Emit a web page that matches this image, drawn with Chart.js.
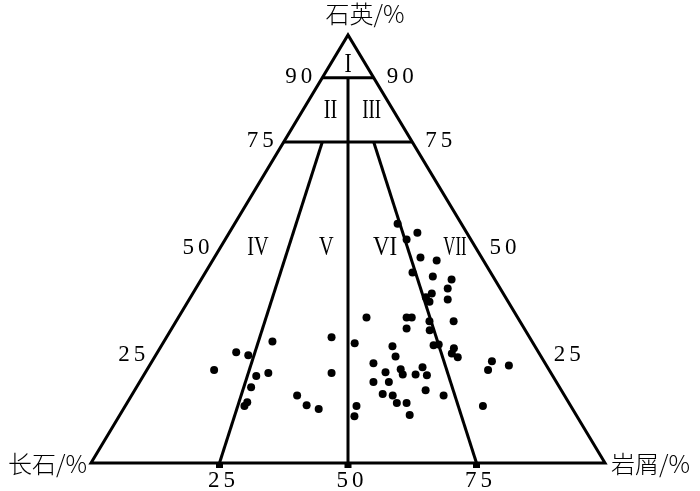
<!DOCTYPE html>
<html>
<head>
<meta charset="utf-8">
<script src="https://cdn.jsdelivr.net/npm/chart.js"></script>
<style>
  body { margin: 0; background: #fff; }
  canvas { display: block; }
</style>
</head>
<body>
<canvas id="tri" width="700" height="491"></canvas>
<script>
// sample compositions, % (feldspar = 100 - quartz - lithics)
const quartz = [
  21.7, 25.9, 25.2, 28.4, 20.3, 21.0, 17.7, 14.2, 13.3, 29.4, 21.0, 15.8, 13.5, 12.6, 28.0, 13.3,
  10.9, 34.0, 34.0, 34.0, 31.4, 38.2, 33.1, 33.1, 31.0, 27.5, 27.7, 27.3, 24.9, 26.8, 25.6, 24.7,
  23.3, 21.2, 21.9, 20.7, 20.7, 22.4, 20.5, 18.9, 18.9, 16.1, 15.8, 17.0, 15.8, 14.0, 14.0, 11.2,
  55.9, 53.8, 52.2, 48.0, 47.3, 44.5, 43.6, 42.9, 40.8, 39.6, 38.7, 37.7, 23.8, 22.8, 21.7, 13.3
];
const lithics = [
  13.1, 15.3, 18.0, 21.1, 22.0, 24.0, 22.3, 23.3, 23.2, 32.1, 36.3, 32.2, 35.2, 38.0, 37.3, 45.0,
  45.8, 36.6, 44.4, 45.4, 45.7, 50.3, 49.3, 54.0, 50.4, 52.9, 53.8, 45.0, 46.8, 57.2, 57.4, 59.0,
  43.3, 46.7, 49.3, 50.3, 52.8, 53.3, 55.1, 45.5, 48.5, 48.7, 50.8, 56.6, 60.7, 52.5, 54.4, 56.4,
  31.7, 36.6, 35.3, 40.1, 43.6, 40.3, 44.7, 48.7, 49.0, 46.5, 45.8, 47.0, 66.1, 69.9, 66.4, 69.6
];

const sideTicks = [90, 75, 50, 25];
const baseTicks = [25, 50, 75];
const regionNames = ["I", "II", "III", "IV", "V", "VI", "VII"];
const apexLabel = "石英/%";
const leftLabel = "长石/%";
const rightLabel = "岩屑/%";

// field boundaries as [quartz, lithics] end points
const boundaries = [
  [[0, 50], [0, 100], [100, 0], [0, 0], [0, 50]],
  [[90, 0], [90, 10]],
  [[75, 0], [75, 25]],
  [[90, 5], [0, 50]],
  [[75, 7.5], [0, 25]],
  [[75, 17.5], [0, 75]]
];

// ternary -> plot coords: x along the base, y = quartz
function toXY(q, l) {
  return { x: l + q / 2, y: q };
}

const lineSets = boundaries.map(seg => ({
  type: "scatter",
  showLine: true,
  data: seg.map(p => toXY(p[0], p[1])),
  borderColor: "#000",
  borderWidth: 3,
  borderJoinStyle: "miter",
  borderCapStyle: "butt",
  pointRadius: 0,
  clip: false
}));

const pointSet = {
  type: "scatter",
  data: quartz.map((q, i) => toXY(q, lithics[i])),
  backgroundColor: "#000",
  borderColor: "#000",
  borderWidth: 0,
  pointRadius: 4,
  clip: false
};

// label positions [quartz, x along base]
const regionPos = [[93, 50], [82.2, 46.6], [82.2, 54.6], [50.2, 32.5], [50.2, 45.8], [50.2, 57.2], [50.2, 70.8]];
const regionSquash = [0.8, 0.75, 0.7, 0.75, 0.75, 0.85, 0.62];

const labelPlugin = {
  id: "labels",
  afterDatasetsDraw(chart) {
    const ctx = chart.ctx;
    const xs = chart.scales.x, ys = chart.scales.y;
    const px = v => xs.getPixelForValue(v);
    const py = v => ys.getPixelForValue(v);
    ctx.save();
    ctx.fillStyle = "#000";
    ctx.textBaseline = "middle";

    // base tick marks
    baseTicks.forEach(t => {
      ctx.fillRect(px(t) - 3.5, py(0) - 1, 7, 6);
    });

    // numbers
    ctx.font = "23px 'Liberation Serif'";
    ctx.letterSpacing = "4px";
    sideTicks.forEach(t => {
      ctx.textAlign = "right";
      ctx.fillText(String(t), px(t / 2) - 6, py(t) - 1);
      ctx.textAlign = "left";
      ctx.fillText(String(t), px(100 - t / 2) + 13, py(t) - 1);
    });
    ctx.textAlign = "center";
    baseTicks.forEach(t => {
      ctx.fillText(String(t), px(t) + 4, py(0) + 18);
    });
    ctx.letterSpacing = "0px";

    // field numbers
    ctx.font = "27px 'Liberation Serif'";
    regionNames.forEach((name, i) => {
      const p = regionPos[i];
      ctx.save();
      ctx.translate(px(p[1]), py(p[0]));
      ctx.scale(regionSquash[i], 1);
      ctx.fillText(name, 0, 0);
      ctx.restore();
    });

    // end members
    ctx.font = "300 24px 'Noto Sans CJK SC'";
    ctx.textAlign = "center";
    ctx.fillText(apexLabel, px(50) + 17, py(100) - 21);
    ctx.textAlign = "right";
    ctx.fillText(leftLabel, px(0) - 4, py(0) + 1);
    ctx.textAlign = "left";
    ctx.fillText(rightLabel, px(100) + 6, py(0) + 1);
    ctx.restore();
  }
};

new Chart(document.getElementById("tri"), {
  type: "scatter",
  data: { datasets: [...lineSets, pointSet] },
  options: {
    responsive: false,
    animation: false,
    devicePixelRatio: 1,
    layout: { padding: { left: 91, right: 95, top: 35, bottom: 28 } },
    scales: {
      x: { type: "linear", min: 0, max: 100, display: false },
      y: { type: "linear", min: 0, max: 100, display: false }
    },
    plugins: {
      legend: { display: false },
      tooltip: { enabled: false }
    }
  },
  plugins: [labelPlugin]
});
</script>
</body>
</html>
